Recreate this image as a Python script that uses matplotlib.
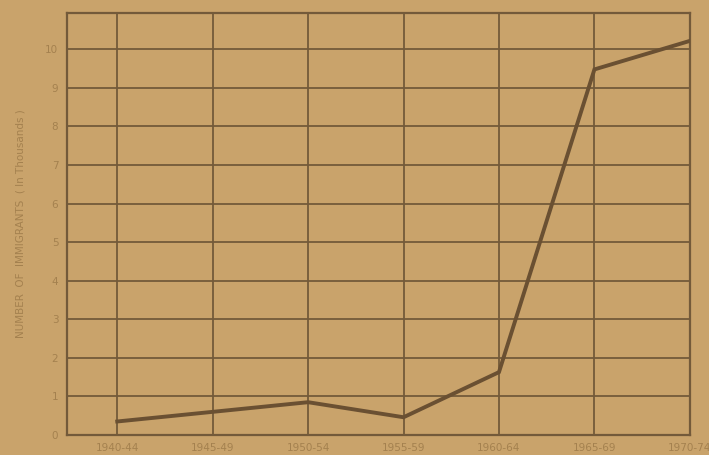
import matplotlib.pyplot as plt

# Datos
periodos = ['1940-44', '1945-49', '1950-54', '1955-59', '1960-64', '1965-69', '1970-74']
inmigrantes = [0.35, 0.6, 0.85, 0.46, 1.63, 9.48, 10.22]
marcas_y = [0, 1, 2, 3, 4, 5, 6, 7, 8, 9, 10]

fondo = '#c9a36b'
linea = '#6a5032'
texto = '#a4814f'

fig = plt.figure(figsize=(7.09, 4.55), dpi=100, facecolor=fondo)
ax = fig.add_axes([0.094, 0.044, 0.879, 0.928], facecolor=fondo)

x = list(range(len(periodos)))
ax.plot(x, inmigrantes, color=linea, linewidth=2.8, solid_joinstyle='miter', zorder=3)

ax.set_xlim(-0.53, 6)
ax.set_ylim(0, 10.95)
ax.set_xticks(x)
ax.set_xticklabels(periodos)
ax.set_yticks(marcas_y)
ax.grid(True, color='#735a3a', linewidth=1.3)
for s in ax.spines.values():
    s.set_color('#735a3a')
    s.set_linewidth(1.6)

ax.tick_params(length=0, colors=texto, labelsize=7.5, pad=6)
ax.set_ylabel('NUMBER  OF  IMMIGRANTS  ( In Thousands )', color=texto, fontsize=7.5, labelpad=14)

plt.savefig('out.png', dpi=100, facecolor=fondo)
